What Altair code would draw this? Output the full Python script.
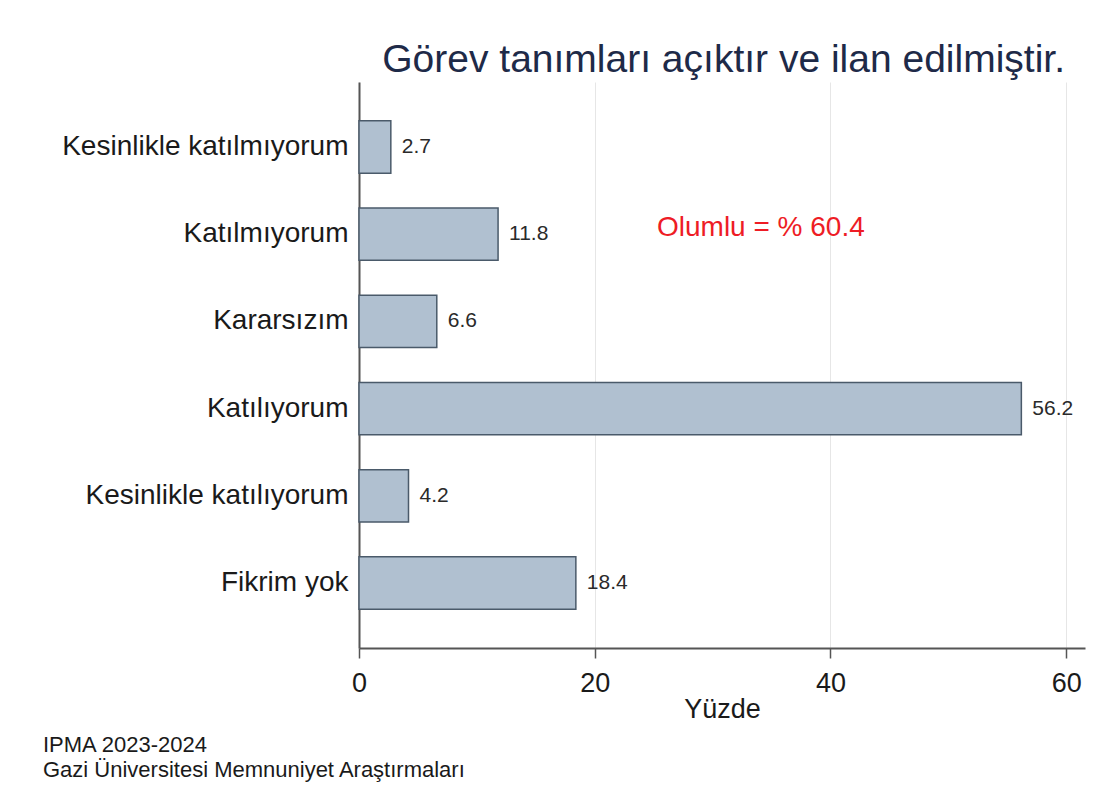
import altair as alt
import pandas as pd

categories = ["Kesinlikle katılmıyorum", "Katılmıyorum", "Kararsızım",
              "Katılıyorum", "Kesinlikle katılıyorum", "Fikrim yok"]
values = [2.7, 11.8, 6.6, 56.2, 4.2, 18.4]
x_ticks = [0, 20, 40, 60]
title_text = "Görev tanımları açıktır ve ilan edilmiştir."
note_text = "Olumlu = % 60.4"
footer_lines = ["IPMA 2023-2024", "Gazi Üniversitesi Memnuniyet Araştırmaları"]

df = pd.DataFrame({"cat": categories, "val": values,
                   "lab": [f"{v:.1f}" for v in values]})

FONT = "Liberation Sans"
W, H = 726, 566

y_enc = alt.Y("cat:N", sort=categories, title=None,
              scale=alt.Scale(paddingInner=0.40, paddingOuter=0.445),
              axis=alt.Axis(labelFontSize=28, labelColor="#1a1a1a", labelFont=FONT,
                            domainColor="#555555", domainWidth=2, ticks=False,
                            labelPadding=11, labelLimit=500))
x_scale = alt.Scale(domain=[0, 61.6], nice=False)

bars = alt.Chart(df).mark_bar(fill="#b0c0d0", stroke="#4a5a6a", strokeWidth=1.5).encode(
    x=alt.X("val:Q", scale=x_scale, title="Yüzde",
            axis=alt.Axis(values=x_ticks, grid=True, gridColor="#e6e6e6", gridWidth=1,
                          labelFontSize=27, labelColor="#1a1a1a", labelFont=FONT,
                          labelFlush=False,
                          titleFontSize=27, titleFont=FONT, titleColor="#1a1a1a",
                          titleFontWeight="normal", titlePadding=0,
                          domainColor="#555555", domainWidth=2,
                          tickColor="#555555", tickSize=10, tickWidth=1.5,
                          labelPadding=12, format="d")),
    y=y_enc,
)

labels = alt.Chart(df).mark_text(align="left", baseline="middle", dx=11,
                                 fontSize=21, font=FONT, color="#2a2a2a").encode(
    x=alt.X("val:Q", scale=x_scale),
    y=alt.Y("cat:N", sort=categories),
    text="lab:N",
)

note = alt.Chart(pd.DataFrame({"t": [note_text]})).mark_text(
    align="left", baseline="middle", fontSize=28, font=FONT, color="#ee1c25"
).encode(x=alt.value(298), y=alt.value(146), text="t:N")

footer1 = alt.Chart(pd.DataFrame({"t": [footer_lines[0]]})).mark_text(
    align="left", baseline="middle", fontSize=22, font=FONT, color="#1a1a1a"
).encode(x=alt.value(-316), y=alt.value(663), text="t:N")

footer2 = alt.Chart(pd.DataFrame({"t": [footer_lines[1]]})).mark_text(
    align="left", baseline="middle", fontSize=22, font=FONT, color="#1a1a1a"
).encode(x=alt.value(-316), y=alt.value(688), text="t:N")

chart = alt.layer(bars, labels, note, footer1, footer2).properties(
    width=W, height=H,
    title=alt.TitleParams(title_text, fontSize=39, font=FONT, color="#1e2a48",
                          fontWeight="normal", anchor="end", dx=-20, offset=2),
    autosize=alt.AutoSizeParams(type="none"),
    padding={"left": 351, "top": 74, "right": 20, "bottom": 155},
    background="white",
).configure_view(stroke=None)

chart.save("out.html", embed_options={"renderer": "svg", "actions": False})
